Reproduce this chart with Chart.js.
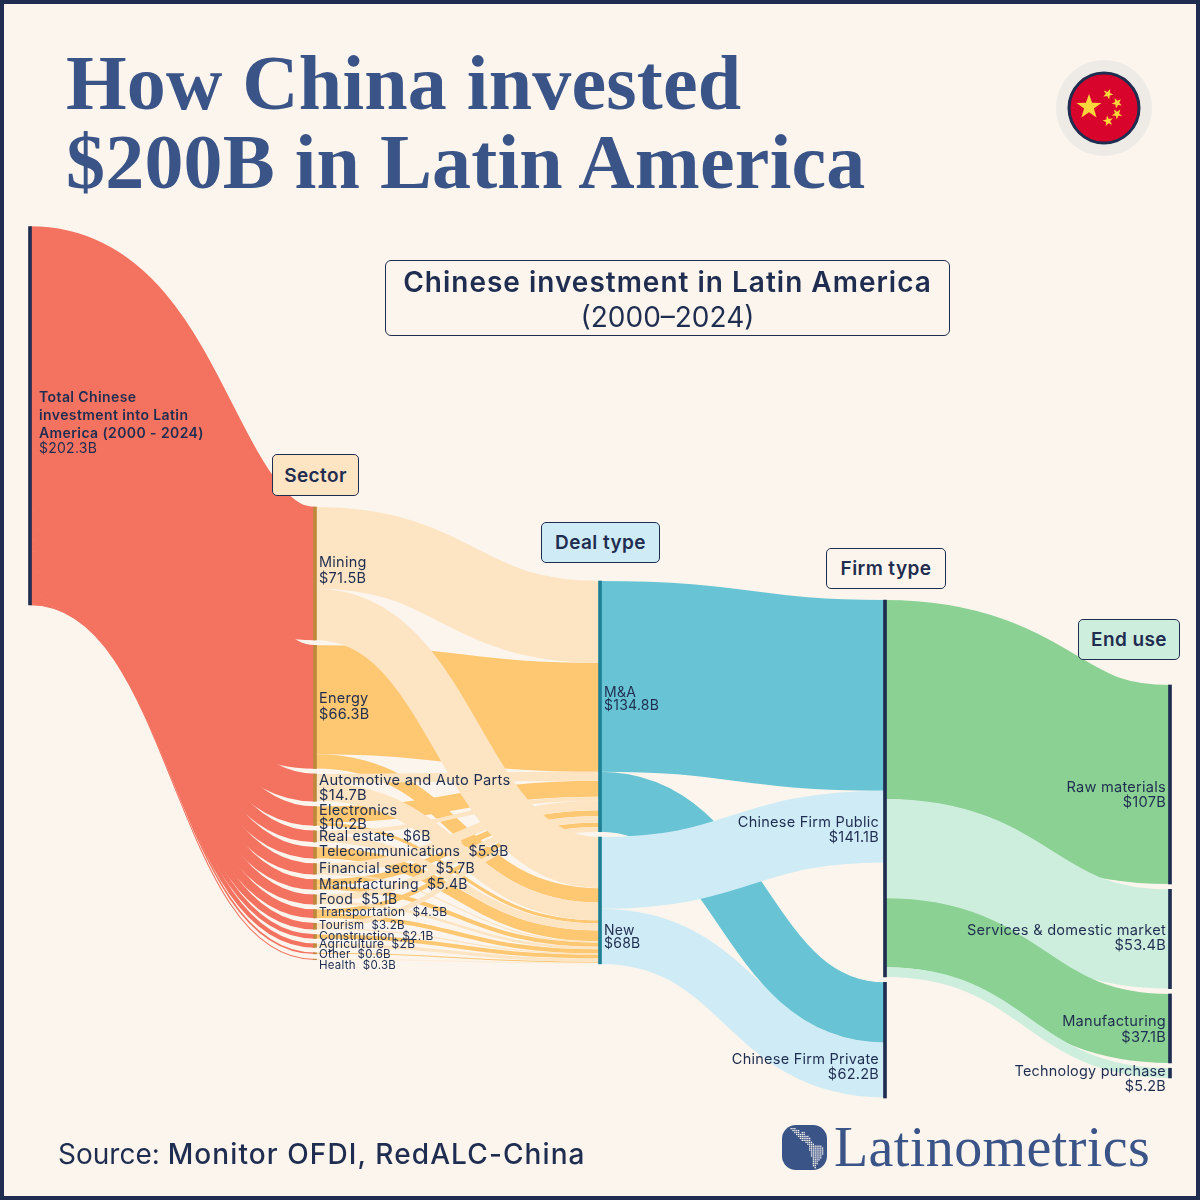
<!DOCTYPE html>
<html><head><meta charset="utf-8">
<script src="https://cdn.jsdelivr.net/npm/chart.js@4"></script>
<style>
html,body{margin:0;padding:0;background:#fcf5ed}
#page{position:relative;width:1200px;height:1200px;overflow:hidden;background:#fcf5ed;font-family:Inter,sans-serif;color:#1f2d50}
#page canvas{position:absolute;left:0;top:0}
#frame{position:absolute;inset:0;border:4px solid #1f2d50;box-sizing:border-box;pointer-events:none}
.title{position:absolute;left:66px;font:700 78px "Liberation Serif",serif;color:#3a5488;white-space:nowrap;line-height:84px;letter-spacing:.2px}
.chip{position:absolute;box-sizing:border-box;border:1px solid #1f2d50;border-radius:5px;font-weight:600;font-size:19px;letter-spacing:.4px;display:flex;align-items:center;justify-content:center;color:#1f2d50}
#head{position:absolute;left:385px;top:260px;width:565px;height:76px;box-sizing:border-box;border:1px solid #1f2d50;border-radius:6px;text-align:center;font-size:28px;line-height:35px;padding-top:4px}
#head b{font-weight:600;letter-spacing:1px}
#source{position:absolute;left:58px;top:1137px;font-size:28px;white-space:nowrap}
#source b{font-weight:500;letter-spacing:1.1px}
#brand{position:absolute;left:834px;top:1115px;font:400 56px "Liberation Serif",serif;color:#3a5488;white-space:nowrap;letter-spacing:.4px}
svg{position:absolute;left:0;top:0}
</style></head>
<body><div id="page">
<canvas id="c" width="1200" height="1200"></canvas>
<div class="title" style="top:41px">How China invested</div>
<div class="title" style="top:120px">$200B in Latin America</div>
<div id="head"><b>Chinese investment in Latin America</b><br>(2000–2024)</div>
<div class="chip" style="left:272px;top:454px;width:87px;height:42px;background:#fde4c3">Sector</div>
<div class="chip" style="left:541px;top:522px;width:119px;height:41px;background:#cfecf6">Deal type</div>
<div class="chip" style="left:826px;top:548px;width:120px;height:41px;background:#fcf5ed">Firm type</div>
<div class="chip" style="left:1078px;top:619px;width:102px;height:41px;background:#ceeedd">End use</div>
<div id="source">Source: <b>Monitor OFDI, RedALC-China</b></div>
<div id="brand">Latinometrics</div>
<svg id="art" width="1200" height="1200" viewBox="0 0 1200 1200">
  <circle cx="1104" cy="108" r="48" fill="#eeebe6"/>
  <circle cx="1104" cy="108" r="35" fill="#d9042b" stroke="#1f2d50" stroke-width="3"/>
  <rect x="782" y="1125" width="45" height="45" rx="14" fill="#3a5488"/>
</svg>
<div id="frame"></div>
</div>
<script>
// ---------- data ----------
const sectorNames = ["Mining","Energy","Automotive and Auto Parts","Electronics","Real estate","Telecommunications","Financial sector","Manufacturing","Food","Transportation","Tourism","Construction","Agriculture","Other","Health"];
const sectorValues = [71.5,66.3,14.7,10.2,6,5.9,5.7,5.4,5.1,4.5,3.2,2.1,2,0.6,0.3];
const sectorToMA  = [44,58.6,4.8,8.6,2.2,0,5,3.2,3.5,2.3,2.6,0,0,0,0];
const sectorToNew = [27.5,7.7,9.6,1.6,3.8,5.9,0.7,2.2,1.4,2.2,0.6,2.1,1.7,0.6,0.3];
const dealNames = ["M&A","New"];
const dealValues = [134.8,68];
const firmNames = ["Chinese Firm Public","Chinese Firm Private"];
const firmValues = [141.1,62.2];
const maToFirm = [102.5,32.3];
const newToFirm = [38.6,29.6];
const endNames = ["Raw materials","Services & domestic market","Manufacturing","Technology purchase"];
const endValues = [107,53.4,37.1,5.2];
const totalName = ["Total Chinese","investment into Latin","America (2000 - 2024)"];
const totalValue = 202.3;

// ---------- layout & style (not data) ----------
const PX_PER_B = 1.86;
const colTopPx = [226.5,507,581,600,685];
const gapPx = 5.3;
const NAVY = "#1f2d50";
const RED="#f37260", LO="#fde4c2", DO="#fec772", TEAL="#68c4d4", LB="#cfecf6", DG="#8ad193", LG="#ceeedd";

// nodes
const nodes = [];
const addNode = (name,value,stage)=>{nodes.push({name,value,stage,in:[],out:[]});return nodes.length-1;};
const nTotal = addNode(totalName.join("\n"),totalValue,0);
const nSector = sectorNames.map((n,i)=>addNode(n,sectorValues[i],1));
const nDeal = dealNames.map((n,i)=>addNode(n,dealValues[i],2));
const nFirm = firmNames.map((n,i)=>addNode(n,firmValues[i],3));
const nEnd = endNames.map((n,i)=>addNode(n,endValues[i],4));

// links, in paint order
const links = [];
const addLink=(s,t,v,color)=>{ if(v>0){const l={s,t,v,color};links.push(l);nodes[s].out.push(l);nodes[t].in.push(l);} };
sectorNames.forEach((_,i)=>addLink(nTotal,nSector[i],sectorValues[i],RED));
const secColor=i=>i%2?DO:LO;
[1,0].forEach(parity=>sectorNames.forEach((_,i)=>{ if(i%2===parity){
  addLink(nSector[i],nDeal[0],sectorToMA[i],secColor(i));
  addLink(nSector[i],nDeal[1],sectorToNew[i],secColor(i));
}}));
addLink(nDeal[1],nFirm[1],newToFirm[1],LB);
addLink(nDeal[0],nFirm[0],maToFirm[0],TEAL);
addLink(nDeal[0],nFirm[1],maToFirm[1],TEAL);
addLink(nDeal[1],nFirm[0],newToFirm[0],LB);
endNames.forEach((_,i)=>addLink(nFirm[0],nEnd[i],endValues[i],i%2?LG:DG));

// vertical stacking, in $B units from the top of the scale
const sum=a=>a.reduce((p,l)=>p+l.v,0);
const cursor=colTopPx.map(p=>p/PX_PER_B);
nodes.forEach(n=>{
  n.size=Math.max(n.value,sum(n.in),sum(n.out));
  n.y0=cursor[n.stage]; n.y1=n.y0+n.size; cursor[n.stage]=n.y1+gapPx/PX_PER_B;
});
nodes.forEach(n=>{
  let a=n.y0; n.out.slice().sort((p,q)=>p.t-q.t).forEach(l=>{l.sc=a+l.v/2;a+=l.v;});
  let b=n.y0; n.in.slice().sort((p,q)=>p.s-q.s).forEach(l=>{l.tc=b+l.v/2;b+=l.v;});
});

const nodeColor=n=>n.stage===1?"#bd8a3c":n.stage===2?"#1f8095":NAVY;

// label styles: [side, font px, line gap, dy px, inline]
const lblStyle={
 "Mining":["l",14.5,16,-3.5],"Energy":["l",14.5,16,-1],"Automotive and Auto Parts":["l",14.7,15,0],"Electronics":["l",14.5,13.5,0.5],
 "Real estate":["l",14,0,-0.5,1],"Telecommunications":["l",14,0,-2,1],"Financial sector":["l",14,0,-1,1],
 "Food":["l",14,0,-1,1],"Transportation":["l",12,0,-2,1],"Tourism":["l",11.5,0,-2,1],"Construction":["l",12,0,-1,1],
 "Agriculture":["l",12,0,-2,1],"Other":["l",11.5,0,0.5,1],"Health":["l",11.5,0,5.5,1],
 "M&A":["l",14,13,-8],"New":["l",14,13,36],
 "Chinese Firm Public":["r",14.5,15,41],"Chinese Firm Private":["r",14.5,14.5,26],
 "Raw materials":["r",14.6,14.5,9.5],"Services & domestic market":["r",14.6,15,-1.5],"Technology purchase":["r",14.4,15,5.5]
};
const fmt=v=>"$"+v+"B";

const sankeyPlugin={
 id:"sankeyFlows",
 beforeDatasetsDraw(chart){
  const {x,y}=chart.scales, ctx=chart.ctx;
  ctx.save();ctx.lineCap="butt";
  links.forEach(l=>{
   const xa=x.getPixelForValue(nodes[l.s].stage), xb=x.getPixelForValue(nodes[l.t].stage), xm=(xa+xb)/2;
   const ya=y.getPixelForValue(l.sc), yb=y.getPixelForValue(l.tc);
   ctx.beginPath();ctx.moveTo(xa,ya);
   ctx.bezierCurveTo(xm,ya,xm,yb,xb,yb);
   const w=Math.abs(y.getPixelForValue(l.v)-y.getPixelForValue(0));
   ctx.lineWidth=l.s===nTotal?w+0.5:w;   // hide hairline seams between adjacent red flows
   ctx.strokeStyle=l.color;ctx.stroke();
  });
  ctx.restore();
 },
 afterDatasetsDraw(chart){
  const {x,y}=chart.scales, ctx=chart.ctx;
  ctx.save();ctx.fillStyle=NAVY;ctx.textBaseline="middle";
  ctx.letterSpacing="0.25px";
  nodes.forEach(n=>{
   const cy=y.getPixelForValue((n.y0+n.y1)/2)+1, px=x.getPixelForValue(n.stage);
   if(n.stage===0){
    ctx.textAlign="left";
    ctx.letterSpacing="0.4px";
    ctx.font="600 14px Inter";
    totalName.forEach((t,k)=>ctx.fillText(t,px+9,cy-19+k*18));
    ctx.font="400 14px Inter";
    ctx.letterSpacing="0.25px";
    ctx.fillText(fmt(n.value),px+9,cy+32);
    return;
   }
   let st=lblStyle[n.name];
   if(!st) st = n.stage===1?["l",14,0,-1,1]:["r",14.6,16,0.5];
   const [side,size,lh,dy,inline]=st;
   ctx.font="400 "+size+"px Inter";
   ctx.textAlign=side==="l"?"left":"right";
   const tx=side==="l"?px+4:px-(n.stage===3?6:4);
   if(inline){ctx.fillText(n.name+"  "+fmt(n.value),tx,cy+dy);}
   else{ctx.fillText(n.name,tx,cy+dy-lh/2);ctx.fillText(fmt(n.value),tx,cy+dy+lh/2);}
  });
  ctx.restore();
 }
};

new Chart(document.getElementById("c"),{
 type:"bar",
 data:{datasets:[{
  label:"Nodes",
  data:nodes.map(n=>({x:n.stage,y:[n.y0,n.y1]})),
  backgroundColor:nodes.map(nodeColor),
  barThickness:3,borderWidth:0,borderSkipped:false
 }]},
 options:{
  responsive:false,animation:false,devicePixelRatio:1,
  layout:{padding:0},
  plugins:{legend:{display:false},tooltip:{enabled:false},title:{display:false}},
  scales:{
   x:{type:"linear",display:false,offset:false,min:-30/285,max:1170/285,grid:{display:false}},
   y:{type:"linear",display:false,reverse:true,min:0,max:1200/PX_PER_B,grid:{display:false}}
  }
 },
 plugins:[sankeyPlugin]
});

// decoration: flag stars and logo dot-map
const art=document.getElementById("art"),NS="http://www.w3.org/2000/svg";
function star(cx,cy,r,rot){
 let p=[];for(let i=0;i<10;i++){const R=i%2?r*0.4:r,a=-Math.PI/2+rot+i*Math.PI/5;p.push((cx+R*Math.cos(a)).toFixed(1)+","+(cy+R*Math.sin(a)).toFixed(1));}
 const e=document.createElementNS(NS,"polygon");e.setAttribute("points",p.join(" "));e.setAttribute("fill","#fcd63a");art.appendChild(e);
}
star(1089,107,13,0);star(1108,94,5.5,.4);star(1117,103,5.5,.8);star(1117,114,5.5,-.6);star(1108,121,5.5,-.2);
const mapRows=[[3,3],[4,4],[5,3,9,2],[6,4,10,1],[7,6],[8,6],[9,5],[11,4],[12,4],[13,7],[13,8],[13,8],[14,7],[14,7],[14,6],[15,5],[15,4],[15,3],[15,3],[15,2],[16,1]];
mapRows.forEach((r,ri)=>{for(let k=0;k<r.length;k+=2){for(let c=0;c<r[k+1];c++){
 const e=document.createElementNS(NS,"rect");
 e.setAttribute("x",785+(r[k]+c)*1.85);e.setAttribute("y",1128+ri*1.95);e.setAttribute("width",1.3);e.setAttribute("height",1.3);
 e.setAttribute("fill","#fcf5ed");art.appendChild(e);
}}});
</script>
</body></html>
